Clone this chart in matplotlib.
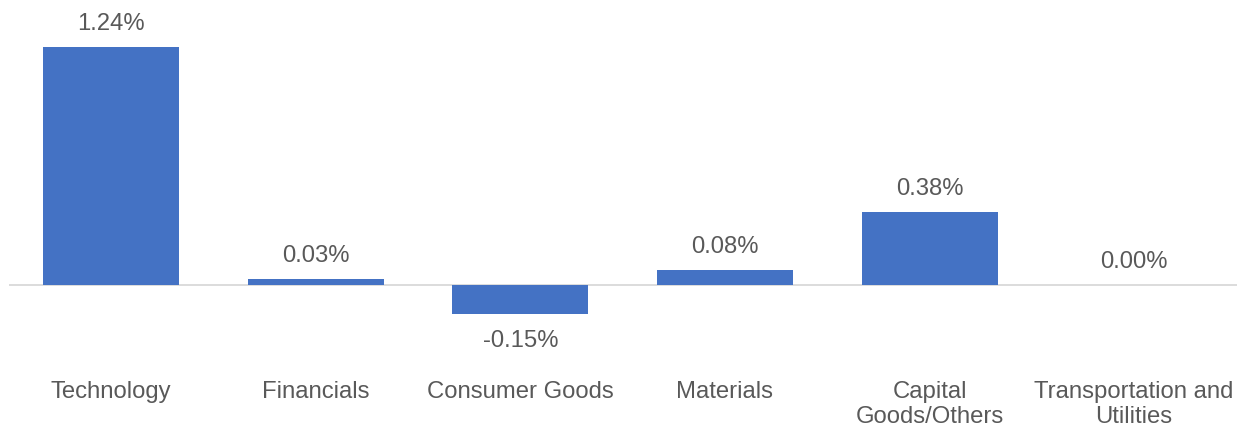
import numpy as np
import matplotlib.pyplot as plt

plt.rcParams['font.family'] = ['Liberation Sans', 'DejaVu Sans']

# Sector contributions (%)
categories = ['Technology', 'Financials', 'Consumer Goods', 'Materials',
              'Capital\nGoods/Others', 'Transportation and\nUtilities']
values = [1.24, 0.03, -0.15, 0.08, 0.38, 0.00]

bar_color = '#4472C4'
text_color = '#595959'

fig = plt.figure(figsize=(12.47, 4.29), dpi=100)
ax = fig.add_axes([8.7 / 1247, 0.2014, (1236.5 - 8.7) / 1247, 0.7385])

x = np.arange(len(categories))
ax.bar(x, values, width=0.665, color=bar_color, zorder=2)
ax.axhline(0, color='#D9D9D9', lw=1.3, zorder=1)

ax.set_xlim(-0.5, len(categories) - 0.5)
ax.set_ylim(-0.3, 1.35)
ax.axis('off')

# value labels
for xi, v in zip(x, values):
    off = -27 if v < 0 else 23
    ax.annotate(f'{v:.2f}%', xy=(xi, v), xytext=(0, off), textcoords='offset pixels',
                ha='center', va='center', fontsize=17.2, color=text_color)

# category labels at the bottom
for xi, c in zip(x, categories):
    ax.annotate(c, xy=(xi, 0), xycoords=('data', 'axes fraction'),
                xytext=(0, -38), textcoords='offset pixels',
                ha='center', va='top', fontsize=17.2, color=text_color,
                linespacing=1.18)

fig.savefig('out.png', dpi=100)
